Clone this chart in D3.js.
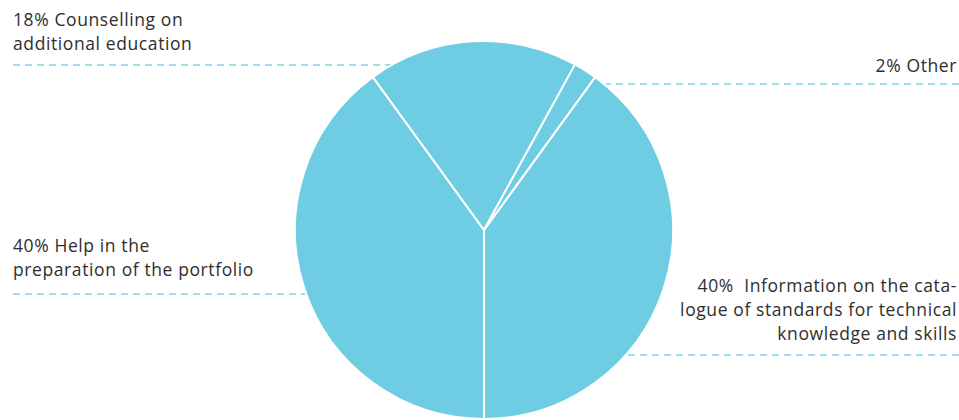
<!DOCTYPE html>
<html>
<head>
<meta charset="utf-8">
<script src="https://cdn.jsdelivr.net/npm/d3@7"></script>
<style>
  html, body { margin: 0; padding: 0; background: #fff; }
  svg text { font-family: "Open Sans", "Liberation Sans", sans-serif; font-size: 17.5px; fill: #2e2e2e; white-space: pre; letter-spacing: 0.6px; }
</style>
</head>
<body>
<svg id="chart" width="959" height="420"></svg>
<script>
// Survey shares, in percent, listed clockwise from the lower-right slice
const categories = [
  "Information on the catalogue of standards for technical knowledge and skills",
  "Help in the preparation of the portfolio",
  "Counselling on additional education",
  "Other"
];
const shares = [40, 40, 18, 2];

// Label text, one array of lines per category
const labelLines = [
  ["40%  Information on the cata-", "logue of standards for technical", "knowledge and skills"],
  ["40% Help in the", "preparation of the portfolio"],
  ["18% Counselling on", "additional education"],
  ["2% Other"]
];

const width = 959, height = 420;
const cx = 484, cy = 230, radius = 189;
const sliceColor = "#6fcde3";
const leaderColor = "#80d4e7";

const svg = d3.select("#chart");

// Label placement: side, text anchor x, first baseline, leader-line y
const labelLayout = [
  { side: "right", x: 957, y: 292, lineY: 355 },
  { side: "left",  x: 13,  y: 252, lineY: 294 },
  { side: "left",  x: 13,  y: 26,  lineY: 65 },
  { side: "right", x: 957, y: 72,  lineY: 84 }
];

// Dashed leader lines run behind the pie
const leaders = svg.append("g");
labelLayout.forEach(l => {
  leaders.append("line")
    .attr("x1", l.side === "left" ? 13 : cx)
    .attr("x2", l.side === "left" ? cx : 959)
    .attr("y1", l.lineY).attr("y2", l.lineY)
    .attr("stroke", leaderColor)
    .attr("stroke-width", 1.3)
    .attr("stroke-dasharray", "7 5");
});

// Pie: the boundary between the two 40% slices points straight down
const startAngle = Math.PI - (shares[0] / 100) * 2 * Math.PI;
const pie = d3.pie().sort(null).value(d => d)
  .startAngle(startAngle).endAngle(startAngle + 2 * Math.PI);
const arc = d3.arc().innerRadius(0).outerRadius(radius);

svg.append("g")
  .attr("transform", `translate(${cx},${cy})`)
  .selectAll("path")
  .data(pie(shares))
  .join("path")
  .attr("d", arc)
  .attr("fill", sliceColor)
  .attr("stroke", "#fff")
  .attr("stroke-width", 2)
  .attr("stroke-linejoin", "round");

// Text labels
const labels = svg.append("g");
labelLayout.forEach((l, i) => {
  const t = labels.append("text")
    .attr("text-anchor", l.side === "left" ? "start" : "end");
  labelLines[i].forEach((line, j) => {
    t.append("tspan")
      .attr("x", l.x)
      .attr("y", l.y + j * 24)
      .text(line);
  });
});
</script>
</body>
</html>
